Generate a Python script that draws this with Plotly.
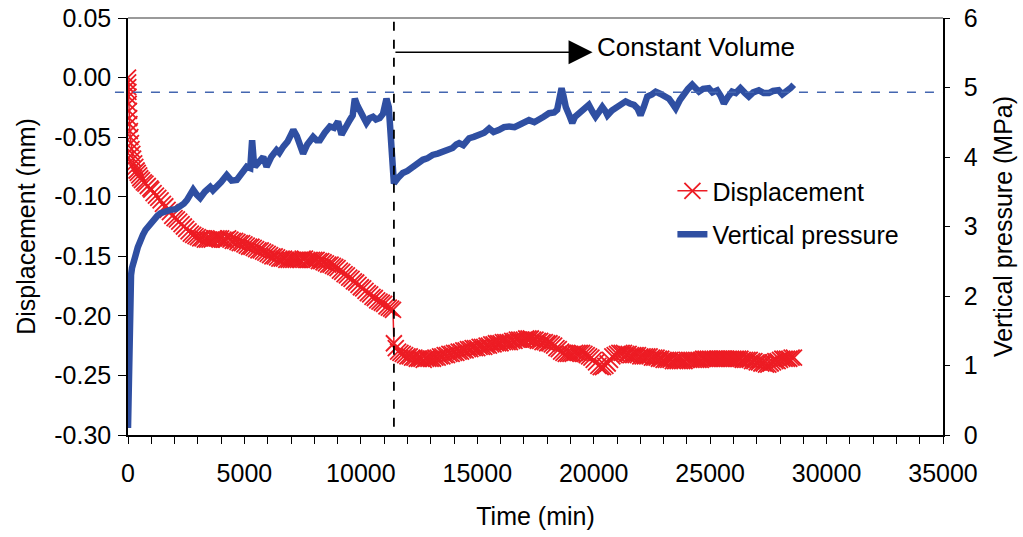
import plotly.graph_objects as go

# ---------------- data ----------------
# early consolidation readings (min, mm)
disp_time_early = [0, 5, 10, 15, 20, 30, 40, 50, 60, 80, 100, 125, 150, 185, 220, 265, 313, 370, 420, 480,
                   527, 600, 680, 750, 850, 960]
disp_mm_early = [0.000, -0.004, -0.008, -0.012, -0.016, -0.022, -0.028, -0.034, -0.039, -0.045, -0.050,
                 -0.055, -0.060, -0.064, -0.068, -0.072, -0.075, -0.078, -0.080, -0.082,
                 -0.0845, -0.086, -0.088, -0.089, -0.091, -0.093]
# readings every 100 min from 1000 to 11300 min
disp_time_mid = [1000, 1100, 1200, 1300, 1400, 1500, 1600, 1700, 1800, 1900,
                 2000, 2100, 2200, 2300, 2400, 2500, 2600, 2700, 2800, 2900,
                 3000, 3100, 3200, 3300, 3400, 3500, 3600, 3700, 3800, 3900,
                 4000, 4100, 4200, 4300, 4400, 4500, 4600, 4700, 4800, 4900,
                 5000, 5100, 5200, 5300, 5400, 5500, 5600, 5700, 5800, 5900,
                 6000, 6100, 6200, 6300, 6400, 6500, 6600, 6700, 6800, 6900,
                 7000, 7100, 7200, 7300, 7400, 7500, 7600, 7700, 7800, 7900,
                 8000, 8100, 8200, 8300, 8400, 8500, 8600, 8700, 8800, 8900,
                 9000, 9100, 9200, 9300, 9400, 9500, 9600, 9700, 9800, 9900,
                 10000, 10100, 10200, 10300, 10400, 10500, 10600, 10700, 10800, 10900,
                 11000, 11100, 11200, 11300, 11380]
disp_mm_mid = [-0.094, -0.097, -0.099, -0.101, -0.103, -0.106, -0.108, -0.111, -0.113, -0.116,
               -0.118, -0.119, -0.121, -0.123, -0.125, -0.127, -0.129, -0.131, -0.132, -0.133,
               -0.134, -0.135, -0.135, -0.136, -0.136, -0.136, -0.136, -0.135, -0.135, -0.135,
               -0.135, -0.136, -0.136, -0.135, -0.136, -0.137, -0.137, -0.138, -0.139, -0.139,
               -0.140, -0.141, -0.142, -0.142, -0.143, -0.144, -0.145, -0.145, -0.146, -0.147,
               -0.148, -0.149, -0.150, -0.150, -0.151, -0.152, -0.152, -0.152, -0.153, -0.153,
               -0.153, -0.153, -0.153, -0.153, -0.153, -0.152, -0.152, -0.153, -0.153, -0.153,
               -0.153, -0.153, -0.154, -0.154, -0.155, -0.156, -0.157, -0.157, -0.158, -0.159,
               -0.160, -0.162, -0.163, -0.165, -0.166, -0.168, -0.169, -0.171, -0.172, -0.174,
               -0.176, -0.177, -0.179, -0.181, -0.182, -0.184, -0.185, -0.187, -0.188, -0.189,
               -0.190, -0.192, -0.193, -0.194, -0.195]
# constant-volume stage, readings every 100 min
disp_time_cv = [11420, 11500, 11600, 11700, 11800, 11900,
                12000, 12100, 12200, 12300, 12400, 12500, 12600, 12700, 12800, 12900,
                13000, 13100, 13200, 13300, 13400, 13500, 13600, 13700, 13800, 13900,
                14000, 14100, 14200, 14300, 14400, 14500, 14600, 14700, 14800, 14900,
                15000, 15100, 15200, 15300, 15400, 15500, 15600, 15700, 15800, 15900,
                16000, 16100, 16200, 16300, 16400, 16500, 16600, 16700, 16800, 16900,
                17000, 17100, 17200, 17300, 17400, 17500, 17600, 17700, 17800, 17900,
                18000, 18100, 18200, 18300, 18400, 18500, 18600, 18700, 18800, 18900,
                19000, 19100, 19200, 19300, 19400, 19500, 19600, 19700, 19800, 19900,
                20000, 20100, 20200, 20300, 20400, 20500, 20600, 20700, 20800, 20900,
                21000, 21100, 21200, 21300, 21400, 21500, 21600, 21700, 21800, 21900,
                22000, 22100, 22200, 22300, 22400, 22500, 22600, 22700, 22800, 22900,
                23000, 23100, 23200, 23300, 23400, 23500, 23600, 23700, 23800, 23900,
                24000, 24100, 24200, 24300, 24400, 24500, 24600, 24700, 24800, 24900,
                25000, 25100, 25200, 25300, 25400, 25500, 25600, 25700, 25800, 25900,
                26000, 26100, 26200, 26300, 26400, 26500, 26600, 26700, 26800, 26900,
                27000, 27100, 27200, 27300, 27400, 27500, 27600, 27700, 27800, 27900,
                28000, 28100, 28200, 28300, 28400, 28500, 28600]
disp_mm_cv = [-0.223, -0.227, -0.230, -0.231, -0.232, -0.233,
              -0.234, -0.234, -0.235, -0.235, -0.236, -0.236, -0.236, -0.237, -0.236, -0.236,
              -0.236, -0.236, -0.235, -0.235, -0.234, -0.234, -0.233, -0.233, -0.232, -0.232,
              -0.231, -0.231, -0.230, -0.230, -0.229, -0.229, -0.228, -0.228, -0.227, -0.227,
              -0.227, -0.226, -0.226, -0.226, -0.225, -0.225, -0.224, -0.224, -0.223, -0.223,
              -0.223, -0.222, -0.222, -0.222, -0.222, -0.221, -0.221, -0.220, -0.220, -0.220,
              -0.220, -0.219, -0.219, -0.219, -0.220, -0.220, -0.221, -0.221, -0.222, -0.222,
              -0.223, -0.223, -0.224, -0.225, -0.227, -0.228, -0.230, -0.231, -0.232, -0.232,
              -0.232, -0.232, -0.231, -0.231, -0.231, -0.231, -0.232, -0.233, -0.234, -0.235,
              -0.237, -0.239, -0.242, -0.243, -0.243, -0.242, -0.240, -0.237, -0.234, -0.233,
              -0.232, -0.231, -0.231, -0.231, -0.232, -0.232, -0.233, -0.233, -0.233, -0.233,
              -0.234, -0.234, -0.234, -0.234, -0.234, -0.235, -0.235, -0.235, -0.236, -0.236,
              -0.237, -0.237, -0.237, -0.237, -0.238, -0.238, -0.238, -0.238, -0.238, -0.238,
              -0.237, -0.237, -0.237, -0.237, -0.237, -0.237, -0.237, -0.236, -0.236, -0.236,
              -0.236, -0.236, -0.236, -0.236, -0.236, -0.236, -0.236, -0.236, -0.236, -0.236,
              -0.236, -0.236, -0.236, -0.236, -0.237, -0.237, -0.237, -0.237, -0.238, -0.238,
              -0.239, -0.239, -0.240, -0.240, -0.241, -0.241, -0.240, -0.239, -0.238, -0.238,
              -0.237, -0.236, -0.236, -0.236, -0.236, -0.235, -0.235]

disp_time = disp_time_early + disp_time_mid + disp_time_cv
disp_mm = disp_mm_early + disp_mm_mid + disp_mm_cv

press_time = [0, 15, 30, 45, 60, 80, 100, 130, 170, 220, 313, 420, 527, 640, 750, 860, 960, 1100, 1250,
              1390, 1600, 1820, 2050, 2240, 2400, 2530, 2650, 2800, 2950, 3100, 3300, 3530, 3650, 3810,
              4000, 4240, 4450, 4670, 4900, 5100, 5250, 5330, 5400, 5450, 5600, 5810, 5950, 6150, 6380,
              6500, 6670, 6850, 7000, 7100, 7250, 7400, 7520, 7700, 7950, 8100, 8240, 8450, 8670, 8850,
              9020, 9170, 9350, 9520, 9650, 9740, 9850, 9950, 10100, 10240, 10380, 10520, 10650, 10810,
              10950, 11050, 11100, 11200, 11300, 11420,
              11600, 11800, 12000, 12230, 12450, 12660, 12850, 13080, 13300, 13510, 13700, 13940, 14100,
              14220, 14400, 14650, 14850, 15080, 15300, 15510, 15700, 15940, 16150, 16370, 16600, 16790,
              17000, 17220, 17450, 17650, 17850, 18080, 18300, 18430, 18550, 18620, 18700, 18800, 18950,
              19080, 19200, 19370, 19550, 19790, 19950, 20080, 20250, 20370, 20500, 20590, 20780, 20940,
              21150, 21370, 21550, 21730, 21880, 22010, 22150, 22300, 22500, 22660, 22850, 23090, 23230,
              23400, 23520, 23700, 23870, 24050, 24230, 24400, 24520, 24700, 24940, 25100, 25300, 25450,
              25590, 25750, 25940, 26100, 26300, 26500, 26660, 26850, 27090, 27300, 27520, 27700, 27940,
              28100, 28300, 28450, 28590]
press_mpa = [0.10, 0.6, 1.1, 1.5, 1.75, 1.95, 2.2, 2.3, 2.4, 2.5, 2.57, 2.7, 2.81, 2.88, 2.95, 3.0, 3.05,
             3.10, 3.15,
             3.19, 3.22, 3.24, 3.25, 3.28, 3.33, 3.38, 3.44, 3.53, 3.46, 3.41, 3.50, 3.57, 3.52, 3.57,
             3.64, 3.74, 3.66, 3.67, 3.78, 3.86, 3.84, 4.24, 3.95, 3.86, 3.92, 4.00, 3.86, 4.00, 4.10,
             4.06, 4.15, 4.22, 4.32, 4.39, 4.30, 4.12, 4.05, 4.18, 4.29, 4.24, 4.24, 4.35, 4.44, 4.42,
             4.51, 4.32, 4.45, 4.53, 4.60, 4.84, 4.74, 4.68, 4.58, 4.49, 4.56, 4.58, 4.54, 4.56,
             4.62, 4.80, 4.84, 4.72, 4.20, 3.62,
             3.70, 3.77, 3.80, 3.86, 3.90, 3.96, 3.98, 4.03, 4.05, 4.08, 4.12, 4.13, 4.18,
             4.20, 4.17, 4.27, 4.29, 4.32, 4.35, 4.41, 4.36, 4.39, 4.43, 4.44, 4.43, 4.46,
             4.50, 4.53, 4.50, 4.53, 4.58, 4.63, 4.64, 4.68, 4.85, 4.99, 4.88, 4.72, 4.60,
             4.49, 4.58, 4.63, 4.66, 4.75, 4.65, 4.58, 4.66, 4.72, 4.66, 4.60, 4.67, 4.70,
             4.74, 4.80, 4.77, 4.75, 4.70, 4.60, 4.72, 4.87, 4.90, 4.94, 4.91, 4.87, 4.84,
             4.76, 4.70, 4.82, 4.92, 4.98, 5.04, 4.97, 4.94, 4.98, 4.99, 4.93, 4.96, 4.88,
             4.77, 4.86, 4.94, 4.92, 4.99, 4.92, 4.87, 4.93, 4.96, 4.92, 4.92, 4.95, 4.96,
             4.90, 4.94, 4.99, 5.04]

x_ticks = [0, 5000, 10000, 15000, 20000, 25000, 30000, 35000]
x_ticktext = ["0", "5000", "10000", "15000", "20000", "25000", "30000", "35000"]
y_left_ticks = [-0.30, -0.25, -0.20, -0.15, -0.10, -0.05, 0.00, 0.05]
y_left_ticktext = ["-0.30", "-0.25", "-0.20", "-0.15", "-0.10", "-0.05", "0.00", "0.05"]
y_right_ticks = [0, 1, 2, 3, 4, 5, 6]

constant_volume_start = 11420     # min
arrow_end = 19950                 # min
target_pressure = 4.93            # MPa

RED = "#ED1C24"
BLUE = "#2F4FA2"
FONT = "Liberation Sans, Arial, sans-serif"
FS = 25

fig = go.Figure()
fig.add_trace(go.Scatter(
    x=disp_time, y=disp_mm, name="Displacement", mode="lines+markers",
    line=dict(color=RED, width=1.5),
    marker=dict(symbol="x-thin", size=16, color=RED, line=dict(color=RED, width=1.8)),
    legendgroup="a", yaxis="y"))
fig.add_trace(go.Scatter(
    x=press_time, y=press_mpa, name="Vertical pressure", mode="lines",
    line=dict(color=BLUE, width=6.5), legendgroup="b", yaxis="y2"))

axis_common = dict(showgrid=False, zeroline=False, showline=True, linecolor="black", linewidth=1.5,
                   tickcolor="black", tickwidth=1.2, automargin=False,
                   tickfont=dict(family=FONT, size=FS, color="black"))

fig.update_layout(
    width=1023, height=537,
    margin=dict(l=128, r=80, t=18, b=102, autoexpand=False),
    paper_bgcolor="white", plot_bgcolor="white",
    font=dict(family=FONT, size=FS, color="black"),
    showlegend=True,
    legend=dict(x=0.668, y=0.64, xanchor="left", yanchor="top", bgcolor="rgba(0,0,0,0)",
                font=dict(family=FONT, size=FS), tracegroupgap=8),
    xaxis=dict(range=[0, 35000], tickvals=x_ticks, ticktext=x_ticktext, ticks="outside", ticklen=7,
               minor=dict(dtick=1000, ticks="outside", ticklen=7, tickcolor="black"),
               ticklabelstandoff=8,
               title=dict(text="Time (min)", font=dict(family=FONT, size=FS), standoff=22),
               **axis_common),
    yaxis=dict(range=[-0.30, 0.05], tickvals=y_left_ticks, ticktext=y_left_ticktext, ticks="outside",
               ticklen=8, ticklabelstandoff=2,
               title=dict(text="Displacement (mm)", font=dict(family=FONT, size=FS), standoff=12),
               **axis_common),
    yaxis2=dict(range=[0, 6], tickvals=y_right_ticks, overlaying="y", side="right", ticks="outside",
                ticklen=5, ticklabelstandoff=9,
                title=dict(text="Vertical pressure (MPa)", font=dict(family=FONT, size=FS), standoff=18),
                **axis_common),
)

# top border (grey)
fig.add_shape(type="line", xref="paper", yref="paper", x0=0, x1=1, y0=1, y1=1,
              line=dict(color="#9a9a9a", width=2))
# target pressure dashed line
fig.add_shape(type="line", xref="paper", yref="y2", x0=-0.016, x1=1, y0=target_pressure, y1=target_pressure,
              line=dict(color="#4466B0", width=1.5, dash="dash"))
# constant-volume start dashed line
fig.add_shape(type="line", xref="x", yref="paper", x0=constant_volume_start, x1=constant_volume_start,
              y0=0.02, y1=1, line=dict(color="black", width=1.8, dash="dash"))
# arrow
fig.add_annotation(x=arrow_end, y=0.918, xref="x", yref="paper", ax=constant_volume_start, ay=0,
                   axref="x", ayref="pixel", text="", showarrow=True, arrowhead=2, arrowsize=3,
                   arrowwidth=1.6, arrowcolor="black")
fig.add_annotation(x=arrow_end + 100, y=0.93, xref="x", yref="paper", text="Constant Volume",
                   showarrow=False, xanchor="left", yanchor="middle",
                   font=dict(family=FONT, size=26, color="black"))

fig.write_html("out.html")
